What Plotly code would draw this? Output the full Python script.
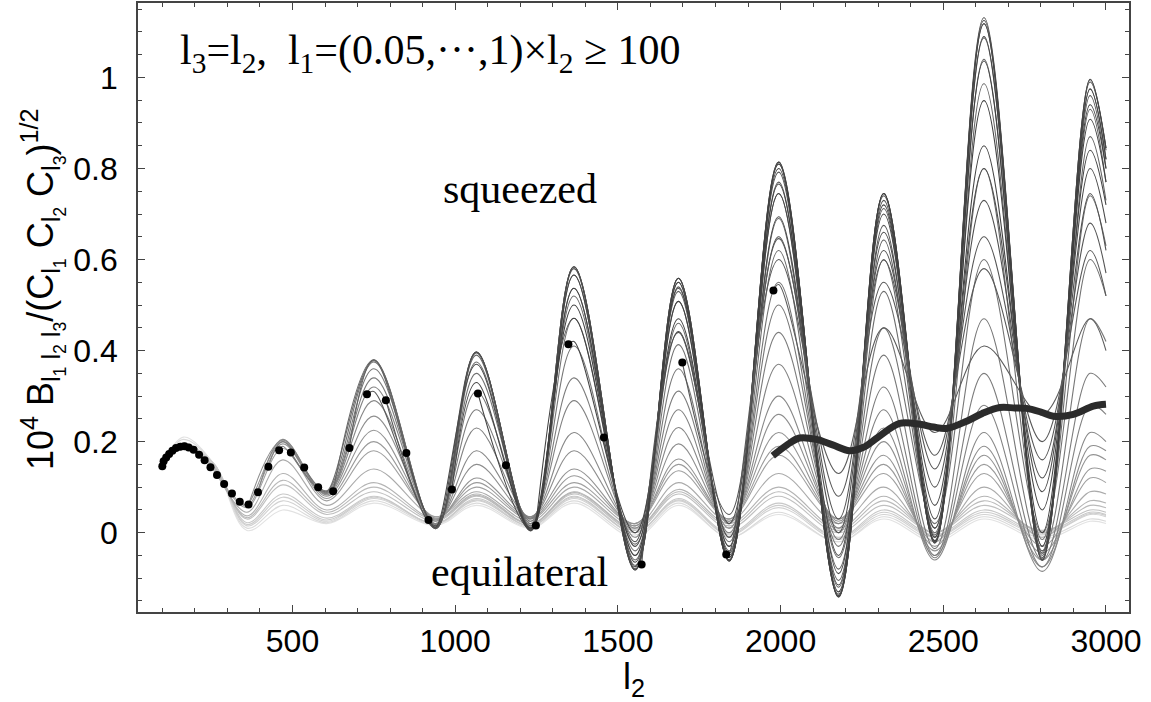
import plotly.graph_objects as go

# ---- data ----
# common l2 sampling points (peaks / troughs of the oscillation)
L2_GRID = [165, 260, 360, 470, 605, 750, 940, 1065, 1232, 1365, 1553, 1686,
           1842, 1994, 2178, 2317, 2474, 2625, 2804, 2951, 3000]

# black dots: starting point of each configuration (l1 = 100)
DOT_L2 = [100, 104, 112, 121, 131, 142, 155, 168, 181, 196, 213, 230, 248, 268,
          290, 314, 338, 365, 394, 426, 459, 495, 536, 579, 625, 675, 729, 787,
          850, 918, 990, 1070, 1156, 1248, 1348, 1457, 1573, 1698, 1833, 1978]
DOT_VAL = [0.146, 0.157, 0.165, 0.173, 0.180, 0.186, 0.189, 0.190, 0.187, 0.182,
           0.171, 0.159, 0.144, 0.127, 0.107, 0.086, 0.068, 0.062, 0.089, 0.145,
           0.181, 0.176, 0.143, 0.100, 0.091, 0.186, 0.304, 0.291, 0.175, 0.028,
           0.095, 0.306, 0.148, 0.016, 0.414, 0.209, -0.070, 0.374, -0.048, 0.532]

N = None
# curves (named by starting l2), values at L2_GRID
c100 = [0.210, 0.150, 0.005, 0.050, 0.020, 0.065, 0.016, 0.060, 0.010, 0.065, -0.010, 0.060, -0.010, 0.040, -0.020, 0.030, -0.020, 0.030, -0.015, 0.025, 0.020]
c112 = [0.205, 0.150, 0.010, 0.060, 0.022, 0.070, 0.018, 0.065, 0.012, 0.070, -0.005, 0.065, -0.010, 0.045, -0.020, 0.035, -0.015, 0.035, -0.010, 0.030, 0.025]
c131 = [0.198, 0.150, 0.015, 0.070, 0.025, 0.075, 0.020, 0.070, 0.015, 0.075, 0.000, 0.070, -0.005, 0.055, -0.015, 0.040, -0.010, 0.040, -0.005, 0.040, 0.035]
c142 = [0.195, 0.150, 0.018, 0.078, 0.028, 0.078, 0.020, 0.072, 0.015, 0.078, 0.000, 0.072, -0.003, 0.060, -0.012, 0.045, -0.008, 0.045, -0.003, 0.042, 0.038]
c155 = [0.192, 0.150, 0.022, 0.085, 0.032, 0.080, 0.020, 0.075, 0.015, 0.080, 0.000, 0.075, 0.000, 0.065, -0.010, 0.050, -0.005, 0.050, 0.000, 0.045, 0.040]
c181 = [N, 0.145, 0.030, 0.105, 0.040, 0.090, 0.025, 0.080, 0.018, 0.085, 0.005, 0.085, 0.010, 0.080, 0.000, 0.060, 0.000, 0.060, 0.005, 0.050, 0.045]
c196 = [N, 0.143, 0.033, 0.115, 0.045, 0.100, 0.028, 0.082, 0.019, 0.088, 0.008, 0.090, 0.015, 0.090, 0.005, 0.070, 0.000, 0.070, 0.003, 0.060, 0.055]
c213 = [N, 0.140, 0.037, 0.130, 0.050, 0.110, 0.030, 0.085, 0.020, 0.090, 0.010, 0.095, 0.020, 0.100, 0.010, 0.080, 0.000, 0.080, 0.000, 0.070, 0.065]
c248 = [N, 0.135, 0.045, 0.160, 0.060, 0.140, 0.035, 0.090, 0.025, 0.100, 0.015, 0.110, 0.025, 0.130, 0.020, 0.100, -0.010, 0.100, -0.010, 0.090, 0.085]
c290 = [N, N, 0.055, 0.185, 0.070, 0.180, 0.035, 0.100, 0.030, 0.110, 0.020, 0.136, 0.030, 0.170, 0.030, 0.130, -0.020, 0.130, -0.030, 0.120, 0.110]
c314 = [N, N, 0.058, 0.195, 0.075, 0.200, 0.032, 0.110, 0.032, 0.125, 0.020, 0.150, 0.030, 0.190, 0.030, 0.150, -0.030, 0.150, -0.045, 0.140, 0.135]
c338 = [N, N, 0.062, 0.200, 0.080, 0.225, 0.030, 0.120, 0.035, 0.140, 0.020, 0.162, 0.030, 0.220, 0.030, 0.170, -0.040, 0.170, -0.060, 0.170, 0.160]
c365 = [N, N, N, 0.203, 0.083, 0.256, 0.028, 0.150, 0.035, 0.180, 0.015, 0.195, 0.025, 0.260, 0.025, 0.200, -0.050, 0.190, -0.075, 0.190, 0.180]
c394 = [N, N, N, 0.205, 0.085, 0.290, 0.025, 0.180, 0.035, 0.220, 0.010, 0.231, 0.020, 0.300, 0.020, 0.230, -0.060, 0.220, -0.085, 0.220, 0.200]
c426 = [N, N, N, 0.200, 0.086, 0.320, 0.020, 0.230, 0.032, 0.290, 0.000, 0.270, 0.010, 0.370, 0.010, 0.270, -0.055, 0.280, -0.075, 0.280, 0.260]
c459 = [N, N, N, 0.190, 0.088, 0.340, 0.018, 0.270, 0.030, 0.340, -0.010, 0.311, 0.000, 0.440, 0.000, 0.320, -0.050, 0.350, -0.060, 0.350, 0.320]
c495 = [N, N, N, N, 0.090, 0.360, 0.015, 0.310, 0.025, 0.410, -0.025, 0.360, -0.010, 0.500, -0.015, 0.390, -0.035, 0.470, -0.040, 0.470, 0.420]
c536 = [N, N, N, N, 0.092, 0.375, 0.012, 0.350, 0.020, 0.471, -0.040, 0.413, -0.020, 0.550, -0.030, 0.450, 0.020, 0.600, 0.000, 0.600, 0.520]
c579 = [N, N, N, N, 0.090, 0.378, 0.010, 0.375, 0.015, 0.520, -0.050, 0.460, -0.030, 0.620, -0.055, 0.530, 0.010, 0.800, -0.015, 0.740, 0.630]
c625 = [N, N, N, N, N, 0.380, 0.009, 0.390, 0.012, 0.537, -0.060, 0.508, -0.040, 0.690, -0.080, 0.600, 0.000, 0.986, -0.030, 0.870, 0.730]
c675 = [N, N, N, N, N, 0.380, 0.009, 0.395, 0.010, 0.566, -0.072, 0.530, -0.050, 0.745, -0.105, 0.643, -0.005, 1.040, -0.040, 0.930, 0.770]
c729 = [N, N, N, N, N, 0.310, 0.010, 0.397, 0.008, 0.584, -0.080, 0.540, -0.055, 0.770, -0.120, 0.675, -0.010, 1.087, -0.050, 0.960, 0.800]
c787 = [N, N, N, N, N, N, 0.012, 0.397, 0.006, 0.584, -0.082, 0.550, -0.060, 0.792, -0.135, 0.712, -0.018, 1.118, -0.058, 0.975, 0.820]
c850 = [N, N, N, N, N, N, 0.015, 0.397, 0.005, 0.584, -0.082, 0.559, -0.062, 0.810, -0.140, 0.730, -0.020, 1.131, -0.061, 0.996, 0.840]
c918 = [N, N, N, N, N, N, 0.012, 0.370, 0.004, 0.580, -0.080, 0.559, -0.062, 0.814, -0.141, 0.740, -0.022, 1.125, -0.060, 0.995, 0.845]
c990 = [N, N, N, N, N, N, N, 0.330, 0.005, 0.566, -0.075, 0.559, -0.062, 0.814, -0.141, 0.745, -0.023, 1.118, -0.055, 0.990, 0.845]
c1070 = [N, N, N, N, N, N, N, N, 0.008, 0.537, -0.065, 0.550, -0.060, 0.810, -0.138, 0.745, -0.018, 1.090, -0.045, 0.974, 0.820]
c1156 = [N, N, N, N, N, N, N, N, 0.010, 0.500, -0.050, 0.537, -0.055, 0.800, -0.130, 0.745, -0.010, 1.036, -0.030, 0.940, 0.800]
c1248 = [N, N, N, N, N, N, N, N, N, 0.471, -0.030, 0.508, -0.045, 0.766, -0.115, 0.720, 0.010, 0.949, 0.000, 0.908, 0.770]
c1348 = [N, N, N, N, N, N, N, N, N, 0.420, 0.000, 0.470, -0.030, 0.745, -0.090, 0.700, 0.030, 0.850, 0.050, 0.840, 0.720]
c1457 = [N, N, N, N, N, N, N, N, N, N, -0.020, 0.442, -0.010, 0.694, -0.050, 0.660, 0.060, 0.800, 0.090, 0.800, 0.680]
c1573 = [N, N, N, N, N, N, N, N, N, N, N, 0.440, 0.020, 0.650, 0.000, 0.620, 0.100, 0.730, 0.120, 0.745, 0.620]
c1698 = [N, N, N, N, N, N, N, N, N, N, N, N, 0.040, 0.646, 0.030, 0.599, 0.140, 0.650, 0.160, 0.680, 0.570]
c1833 = [N, N, N, N, N, N, N, N, N, N, N, N, -0.045, 0.600, 0.080, 0.550, 0.170, 0.580, 0.200, 0.620, 0.520]
c1978 = [N, N, N, N, N, N, N, N, N, N, N, N, N, 0.545, 0.130, 0.450, 0.220, 0.410, 0.260, 0.470, 0.400]

CURVES = [(100, c100), (112, c112), (131, c131), (142, c142), (155, c155),
          (181, c181), (196, c196), (213, c213), (248, c248), (290, c290),
          (314, c314), (338, c338), (365, c365), (394, c394), (426, c426),
          (459, c459), (495, c495), (536, c536), (579, c579), (625, c625),
          (675, c675), (729, c729), (787, c787), (850, c850), (918, c918),
          (990, c990), (1070, c1070), (1156, c1156), (1248, c1248),
          (1348, c1348), (1457, c1457), (1573, c1573), (1698, c1698),
          (1833, c1833), (1978, c1978)]
GREYS = ["#e2e2e2", "#dadada", "#d2d2d2", "#cdcdcd", "#c8c8c8",
         "#c0c0c0", "#bababa", "#b4b4b4", "#aaaaaa", "#a0a0a0",
         "#9a9a9a", "#949494", "#8e8e8e", "#888888", "#828282",
         "#7c7c7c", "#777777", "#727272", "#6c6c6c", "#666666",
         "#606060", "#5a5a5a", "#545454", "#4f4f4f", "#4a4a4a",
         "#464646", "#434343", "#404040", "#404040",
         "#444444", "#4a4a4a", "#505050", "#555555",
         "#585858", "#5c5c5c"]

# thick black curve
THICK_L2 = [1976, 2020, 2058, 2110, 2160, 2212, 2253, 2300, 2366, 2428, 2470,
            2510, 2572, 2620, 2674, 2720, 2756, 2800, 2838, 2900, 2961, 3000]
THICK_VAL = [0.169, 0.193, 0.208, 0.205, 0.193, 0.180, 0.187, 0.210, 0.240,
             0.238, 0.232, 0.229, 0.245, 0.262, 0.275, 0.274, 0.273, 0.265,
             0.256, 0.260, 0.278, 0.282]

X_TICKS = [500, 1000, 1500, 2000, 2500, 3000]
Y_TICKS = [0, 0.2, 0.4, 0.6, 0.8, 1]
Y_TICKTEXT = ["0", "0.2", "0.4", "0.6", "0.8", "1"]

fig = go.Figure()
for (start, vals), col in zip(CURVES, GREYS):
    sv = DOT_VAL[DOT_L2.index(start)]
    xs = [start] + [g for g, v in zip(L2_GRID, vals) if v is not None]
    ys = [sv] + [v for v in vals if v is not None]
    fig.add_trace(go.Scatter(x=xs, y=ys, mode="lines",
                             line=dict(color=col, width=1.1, shape="spline", smoothing=1.0),
                             hoverinfo="skip"))

fig.add_trace(go.Scatter(x=THICK_L2, y=THICK_VAL, mode="lines",
                         line=dict(color="#2b2b2b", width=7, shape="spline"),
                         hoverinfo="skip"))
fig.add_trace(go.Scatter(x=DOT_L2, y=DOT_VAL, mode="markers",
                         marker=dict(color="black", size=8), hoverinfo="skip"))

AX = "#444444"
fig.update_xaxes(range=[25.3, 3070.7], tickvals=X_TICKS, ticks="inside", ticklen=7,
                 tickwidth=1.3, tickcolor=AX, showline=True, linecolor=AX, linewidth=1.6,
                 mirror="allticks", showgrid=False, zeroline=False,
                 minor=dict(dtick=100, tick0=0, ticks="inside", ticklen=4, tickcolor=AX,
                            tickwidth=1.1, showgrid=False),
                 tickfont=dict(size=32, color="black"))
fig.update_yaxes(range=[-0.1742, 1.1635], tickvals=Y_TICKS, ticktext=Y_TICKTEXT,
                 ticks="inside", ticklen=7, tickwidth=1.3, tickcolor=AX, showline=True,
                 linecolor=AX, linewidth=1.6, mirror="allticks", showgrid=False,
                 zeroline=False, ticklabelstandoff=12,
                 minor=dict(dtick=0.05, tick0=0, ticks="inside", ticklen=4, tickcolor=AX,
                            tickwidth=1.1, showgrid=False),
                 tickfont=dict(size=32, color="black"))

SERIF = "Liberation Serif, Times New Roman, serif"
SANS = "Liberation Sans, Arial, sans-serif"
ann = [
    dict(text="l<sub>3</sub>=l<sub>2</sub>,\u00a0\u00a0l<sub>1</sub>=(0.05,\u00b7\u00b7\u00b7,1)\u00d7l<sub>2</sub> \u2265 100",
         x=0.040, y=0.918, xanchor="left", yanchor="middle", font=dict(family=SERIF, size=42)),
    dict(text="squeezed", x=0.3855, y=0.694, xanchor="center", yanchor="middle",
         font=dict(family=SERIF, size=42)),
    dict(text="equilateral", x=0.3845, y=0.066, xanchor="center", yanchor="middle",
         font=dict(family=SERIF, size=42)),
    dict(text="l<sub>2</sub>", x=0.5, y=-0.11, xanchor="center", yanchor="middle",
         font=dict(family=SANS, size=36)),
    dict(text="10<sup>4</sup> B<sub>l<sub>1</sub> l<sub>2</sub> l<sub>3</sub></sub>/(C<sub>l<sub>1</sub></sub> C<sub>l<sub>2</sub></sub> C<sub>l<sub>3</sub></sub>)<sup>1/2</sup>",
         x=-0.097, y=0.53, xanchor="center", yanchor="middle", textangle=-90,
         font=dict(family=SANS, size=36)),
]
for a in ann:
    a.update(xref="paper", yref="paper", showarrow=False)
fig.update_layout(annotations=ann, width=1151, height=702,
                  margin=dict(l=138, r=22, t=1, b=90, pad=0),
                  plot_bgcolor="white", paper_bgcolor="white", showlegend=False,
                  font=dict(family=SANS, color="black"))
fig.write_html("out.html")
